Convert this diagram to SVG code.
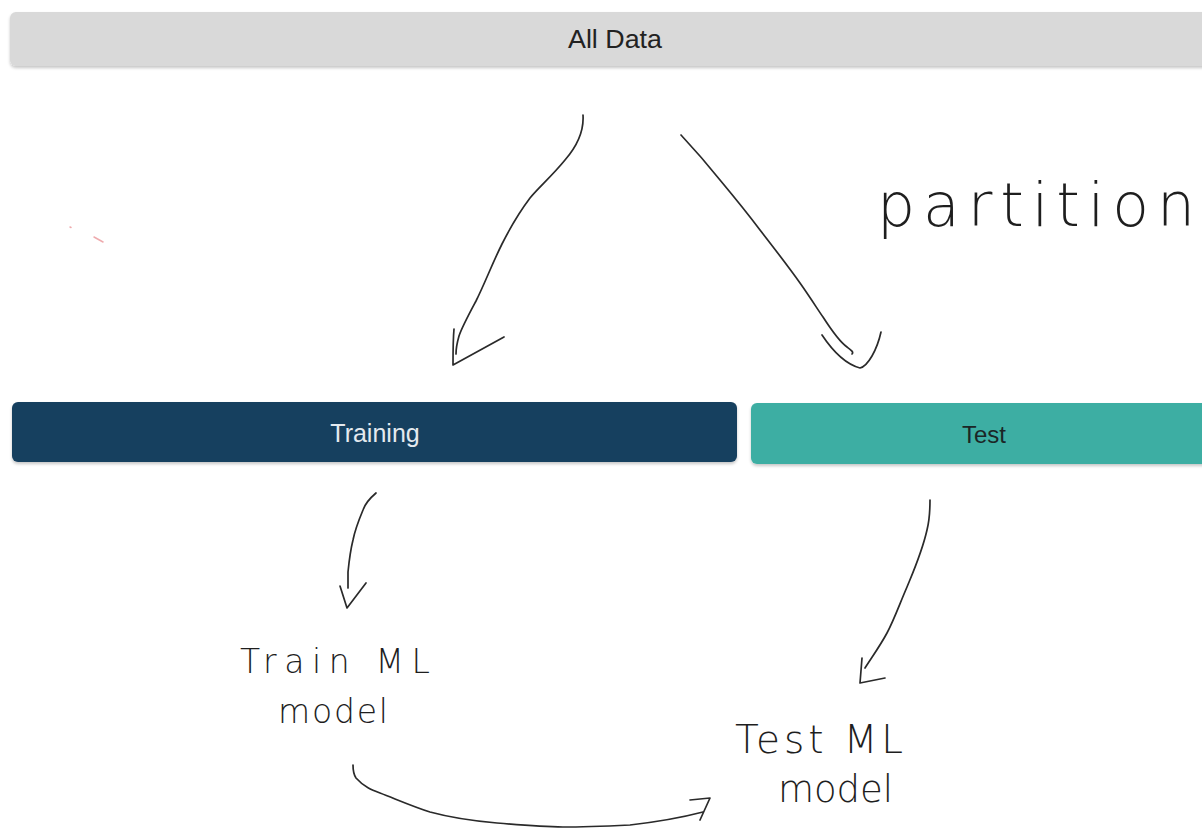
<svg xmlns="http://www.w3.org/2000/svg" width="1202" height="828" viewBox="0 0 1202 828">
  <defs>
    <filter id="soft" x="-5%" y="-30%" width="110%" height="170%">
      <feDropShadow dx="0" dy="2" stdDeviation="1.5" flood-color="#000" flood-opacity="0.22"/>
    </filter>
    <style>
      .bar-label { font-family: "Liberation Sans", Arial, sans-serif; text-anchor: middle; }
      .ink { fill: none; stroke: #2a2a2a; stroke-width: 1.7; stroke-linecap: round; stroke-linejoin: round; }
      .hand { font-family: "DejaVu Sans", "Liberation Sans", sans-serif; font-weight: 200; fill: #1e1e1e; }
    </style>
  </defs>

  <rect width="1202" height="828" fill="#ffffff"/>

  <!-- data bars -->
  <g id="all-data">
    <rect x="10" y="12" width="1206" height="54" rx="6" fill="#d9d9d9" filter="url(#soft)"/>
    <text class="bar-label" x="615" y="48" font-size="25" fill="#222222" textLength="94" lengthAdjust="spacingAndGlyphs">All Data</text>
  </g>

  <g id="training">
    <rect x="12" y="402" width="725" height="60" rx="6" fill="#173f5f" filter="url(#soft)"/>
    <text class="bar-label" x="375" y="442" font-size="25" fill="#e4eaef">Training</text>
  </g>

  <g id="test">
    <rect x="751" y="403" width="465" height="61" rx="6" fill="#3caea3" filter="url(#soft)"/>
    <text class="bar-label" x="984" y="443" font-size="24" fill="#1b2626">Test</text>
  </g>

  <!-- handwritten labels -->
  <g id="partition-label">
    <text class="hand" x="877" y="226" font-size="60" textLength="318" lengthAdjust="spacing">partition</text>
  </g>

  <g id="train-model">
    <text class="hand" x="240" y="673" font-size="33" textLength="190" lengthAdjust="spacing">Train ML</text>
    <text class="hand" x="278" y="723" font-size="33" textLength="110" lengthAdjust="spacing">model</text>
  </g>

  <g id="test-model">
    <text class="hand" x="735" y="753" font-size="39" textLength="168" lengthAdjust="spacing">Test ML</text>
    <text class="hand" x="778" y="802" font-size="37" textLength="115" lengthAdjust="spacing">model</text>
  </g>

  <!-- stray marks -->
  <g id="marks" stroke="#e8888c" stroke-width="1.5" stroke-linecap="round" fill="none" opacity="0.7">
    <path d="M70 227 L71 227.5"/>
    <path d="M94 237 L103 242"/>
  </g>

  <!-- hand-drawn connectors -->
  <g id="connectors" class="ink">
    <!-- all data to training -->
    <path class="ink" d="M583 115 C584 130 578 145 565 160 C552 176 538 188 530 198 C518 214 510 228 502 244 C492 264 485 283 476 301 C468 316 462 327 459 336 C457 343 456 349 456 354"/>
    <path class="ink" d="M454 329 C453 340 453 354 453 365 L504 337"/>
    <!-- all data to test -->
    <path class="ink" d="M681 135 C695 150 708 165 720 180 C735 198 748 214 760 230 C774 248 788 266 800 283 C812 300 818 310 823 317 C832 331 840 342 847 347 C851 350 854 352 852 354"/>
    <path class="ink" d="M822 335 C832 350 845 364 860 368 C868 366 877 350 881 332"/>
    <!-- training to train model -->
    <path class="ink" d="M376 493 C369 499 365 504 363 510 C358 522 355 530 353 540 C350 552 349 562 348 572 C348 578 348 584 348 588"/>
    <path class="ink" d="M340 586 L347 608 L366 583"/>
    <!-- test to test model -->
    <path class="ink" d="M930 500 C930 512 929 522 927 530 C922 552 914 570 907 587 C900 603 894 620 887 633 C880 646 872 657 865 668"/>
    <path class="ink" d="M862 658 L860 683 L885 678"/>
    <!-- train model to test model -->
    <path class="ink" d="M353 765 C353 771 354 775 356 778 C364 787 372 790 380 793 C398 800 414 807 430 812 C452 818 474 821 497 823 C519 825 541 827 563 827 C586 827 608 826 630 825 C656 822 680 818 703 812"/>
    <path class="ink" d="M690 800 L710 798 L700 820"/>
  </g>
</svg>
